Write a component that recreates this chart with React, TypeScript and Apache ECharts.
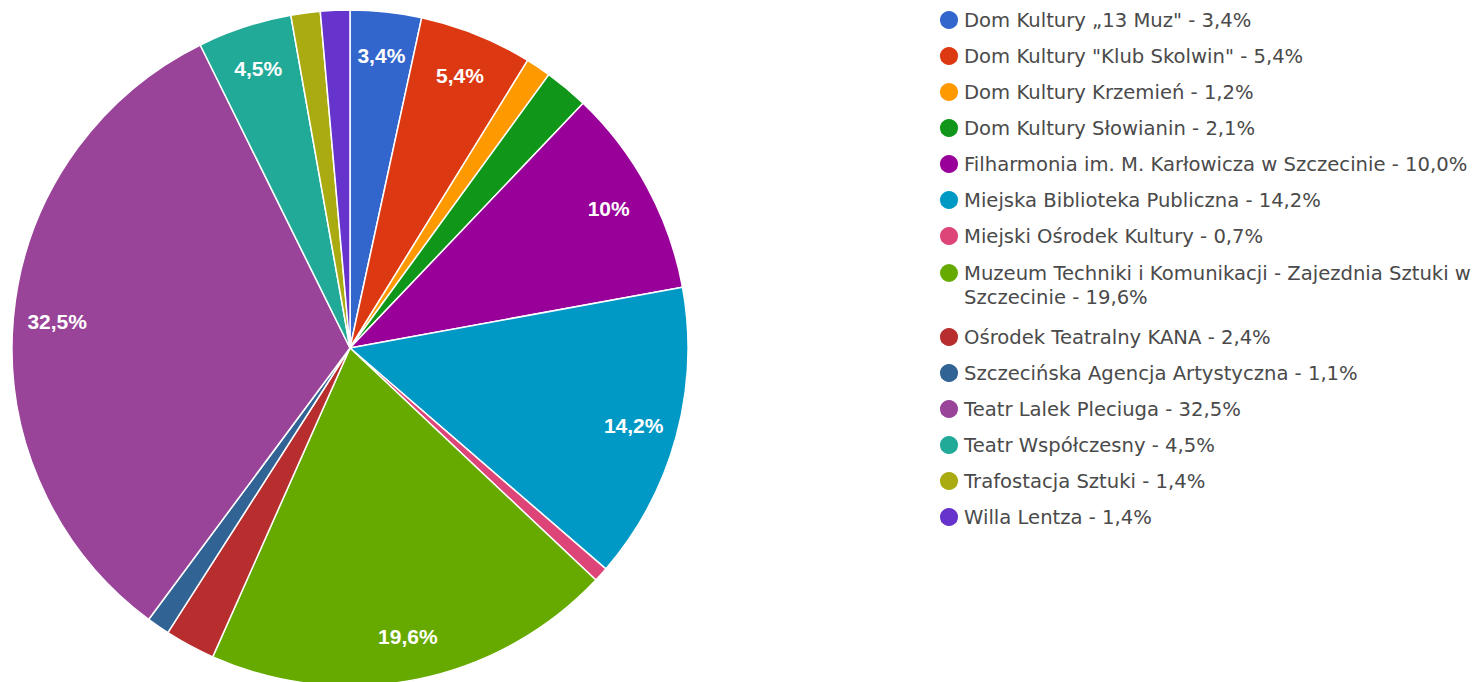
import React, { useEffect, useRef } from 'react';
import * as echarts from 'echarts';

const names: string[] = [
  'Dom Kultury „13 Muz"',
  'Dom Kultury "Klub Skolwin"',
  'Dom Kultury Krzemień',
  'Dom Kultury Słowianin',
  'Filharmonia im. M. Karłowicza w Szczecinie',
  'Miejska Biblioteka Publiczna',
  'Miejski Ośrodek Kultury',
  'Muzeum Techniki i Komunikacji - Zajezdnia Sztuki w Szczecinie',
  'Ośrodek Teatralny KANA',
  'Szczecińska Agencja Artystyczna',
  'Teatr Lalek Pleciuga',
  'Teatr Współczesny',
  'Trafostacja Sztuki',
  'Willa Lentza',
];

const values: number[] = [3.4, 5.4, 1.2, 2.1, 10.0, 14.2, 0.7, 19.6, 2.4, 1.1, 32.5, 4.5, 1.4, 1.4];

const colors: string[] = [
  '#3366cc', '#dc3912', '#ff9900', '#109618', '#990099', '#0099c6', '#dd4477',
  '#66aa00', '#b82e2e', '#316395', '#994499', '#22aa99', '#aaaa11', '#6633cc',
];

const LABEL_MIN = 3;
const LABEL_FONT = '"Liberation Sans", Arial, sans-serif';
const LEGEND_FONT = '"DejaVu Sans", sans-serif';

const fmtLegend = (v: number) => v.toFixed(1).replace('.', ',') + '%';
const fmtLabel = (v: number) => String(Number(v.toFixed(1))).replace('.', ',') + '%';

// circle on top of a taller box so the dot lines up with the first of two text lines
const TALL_DOT = 'path://M0 10A10 10 0 1 1 20 10A10 10 0 1 1 0 10ZM10 44L10 44';

export default function App() {
  const ref = useRef<HTMLDivElement>(null);
  useEffect(() => {
    if (!ref.current) return;
    const chart = echarts.init(ref.current, null, { renderer: 'svg' });
    const legendText = {
      fontSize: 19.6,
      color: '#4a4a4a',
      fontFamily: LEGEND_FONT,
      width: 540,
      overflow: 'break',
      lineHeight: 24,
    };
    const legendCommon = {
      orient: 'vertical',
      left: 938,
      padding: 0,
      icon: 'circle',
      itemWidth: 20,
      itemHeight: 20,
      itemGap: 12,
      textGap: 14,
      selectedMode: false,
      textStyle: legendText,
      formatter: (n: string) => n + ' - ' + fmtLegend(values[names.indexOf(n)]),
    };
    chart.setOption({
      animation: false,
      legend: [
        { ...legendCommon, top: 8, data: names.slice(0, 7) },
        { ...legendCommon, top: 261, itemHeight: 44, icon: TALL_DOT, data: names.slice(7, 8) },
        { ...legendCommon, top: 325, data: names.slice(8) },
      ],
      series: [
        {
          type: 'pie',
          center: [350, 348],
          radius: 338,
          startAngle: 90,
          clockwise: true,
          data: names.map((n, i) => ({ name: n, value: values[i], itemStyle: { color: colors[i] } })),
          label: { show: false },
          labelLine: { show: false },
          itemStyle: { borderColor: '#ffffff', borderWidth: 1.5 },
          emphasis: { disabled: true },
        },
        {
          type: 'pie',
          center: [350, 348],
          radius: [244, 338],
          startAngle: 90,
          clockwise: true,
          silent: true,
          legendHoverLink: false,
          data: names.map((n, i) => ({
            name: n,
            value: values[i],
            label: { show: values[i] >= LABEL_MIN },
          })),
          itemStyle: { color: 'rgba(0,0,0,0)', borderWidth: 0 },
          label: {
            position: 'inside',
            color: '#ffffff',
            fontWeight: 'bold',
            fontSize: 21,
            fontFamily: LABEL_FONT,
            formatter: (p: any) => fmtLabel(p.value),
          },
          labelLine: { show: false },
          emphasis: { disabled: true },
        },
      ],
    });
    return () => chart.dispose();
  }, []);
  return (
    <div
      ref={ref}
      style={{ position: 'absolute', left: 0, top: 0, width: 1481, height: 682 }}
    />
  );
}
